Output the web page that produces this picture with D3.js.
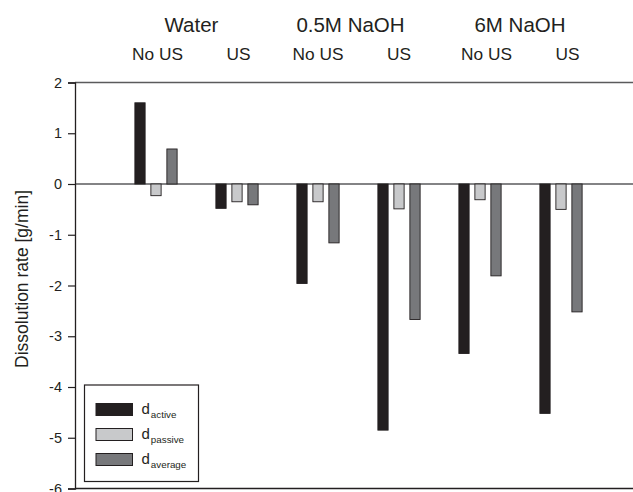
<!DOCTYPE html>
<html><head><meta charset="utf-8">
<script src="https://cdn.jsdelivr.net/npm/d3@7"></script>
<style>
html,body{margin:0;padding:0;background:#fff;}
svg{display:block;font-family:"Liberation Sans",Arial,Helvetica,sans-serif;}
</style></head>
<body>
<script>
// ---- data ----
const conditions = ["Water", "0.5M NaOH", "6M NaOH"];
const treatments = ["No US", "US"];
const categories = ["Water|No US","Water|US","0.5M|No US","0.5M|US","6M|No US","6M|US"];
const seriesKeys = ["active","passive","average"];
const dActive  = [1.60, -0.48, -1.96, -4.85, -3.34, -4.52];
const dPassive = [-0.23, -0.35, -0.35, -0.49, -0.31, -0.50];
const dAverage = [0.69, -0.41, -1.16, -2.67, -1.81, -2.52];
const yTicks = [2, 1, 0, -1, -2, -3, -4, -5, -6];
const yLabel = "Dissolution rate [g/min]";

// ---- layout ----
const W = 633, H = 492;
const mLeft = 75, mRightEnd = 642, mTop = 82.5, mBottom = 488.5;
const colors = {active:"#231f20", passive:"#c8c9cb", average:"#77787b"};
const strokeC = "#231f20";
// small hand-placement nudges of the header texts seen in the original (px)
const condNudge = [-5, -8, -0.5];
const treatNudge = [1.5, 1.5, 0, 0, 6.5, 6.5];

const svg = d3.select("body").append("svg").attr("width", W).attr("height", H);

const x = d3.scalePoint().domain(categories).range([mLeft, mRightEnd]).padding(1);
const x1 = d3.scaleBand().domain(seriesKeys).range([-24, 24]).paddingInner(0.36).paddingOuter(0.18);
const y = d3.scaleLinear().domain([-6, 2]).range([mBottom, mTop]);

const values = {active:dActive, passive:dPassive, average:dAverage};

// horizontal reference lines at 2, 0, -6
[2, 0, -6].forEach(v => {
  svg.append("line").attr("x1", mLeft).attr("x2", mRightEnd)
    .attr("y1", y(v)).attr("y2", y(v))
    .attr("stroke", v === -6 ? "#231f20" : "#5a5a5c").attr("stroke-width", 1.3);
});

// bars
const barsData = [];
categories.forEach((c, i) => seriesKeys.forEach(k => barsData.push({c, k, v: values[k][i]})));
svg.append("g").selectAll("rect").data(barsData).join("rect")
  .attr("x", d => x(d.c) + x1(d.k))
  .attr("width", x1.bandwidth())
  .attr("y", d => y(Math.max(0, d.v)))
  .attr("height", d => Math.abs(y(d.v) - y(0)))
  .attr("fill", d => colors[d.k])
  .attr("stroke", strokeC).attr("stroke-width", 0.9);

// y axis
const yAxis = d3.axisLeft(y).tickValues(yTicks).tickSize(7).tickPadding(6).tickFormat(d3.format("d"));
const gy = svg.append("g").attr("transform", `translate(${mLeft},0)`).call(yAxis);
gy.select(".domain").attr("stroke", "#231f20").attr("stroke-width", 1.3);
gy.selectAll(".tick line").attr("stroke", "#231f20").attr("stroke-width", 1.2);
gy.selectAll(".tick text").attr("font-size", 14.5).attr("fill", "#231f20")
  .attr("font-family", '"Liberation Sans",Arial,sans-serif')
  .text(d => d < 0 ? "-" + Math.abs(d) : d);

// y label
svg.append("text").attr("transform", `translate(28,279) rotate(-90)`)
  .attr("text-anchor", "middle").attr("font-size", 17.5).attr("fill", "#231f20")
  .text(yLabel);

// top labels
svg.append("g").selectAll("text").data(categories).join("text")
  .attr("x", (d, i) => x(d) + treatNudge[i]).attr("y", 60).attr("text-anchor", "middle")
  .attr("font-size", 17.3).attr("fill", "#231f20")
  .text((d, i) => treatments[i % 2]);
svg.append("g").selectAll("text").data(conditions).join("text")
  .attr("x", (d, i) => (x(categories[2*i]) + x(categories[2*i+1])) / 2 + condNudge[i])
  .attr("y", 31.7).attr("text-anchor", "middle")
  .attr("font-size", 20.5).attr("fill", "#231f20")
  .text(d => d);

// legend
const lg = svg.append("g").attr("transform", "translate(84.5,385)");
lg.append("rect").attr("width", 114).attr("height", 96.5)
  .attr("fill", "#fff").attr("stroke", "#231f20").attr("stroke-width", 1.2);
seriesKeys.forEach((k, i) => {
  const yy = 18.5 + i * 25;
  lg.append("rect").attr("x", 11.5).attr("y", yy).attr("width", 36.5).attr("height", 12)
    .attr("fill", colors[k]).attr("stroke", strokeC).attr("stroke-width", 1);
  const t = lg.append("text").attr("x", 57).attr("y", yy + 10.3).attr("fill", "#231f20");
  t.append("tspan").attr("font-size", 15).text("d");
  t.append("tspan").attr("font-size", 9.8).attr("dx", 1).attr("dy", 4).text(k);
});
</script>
</body></html>
